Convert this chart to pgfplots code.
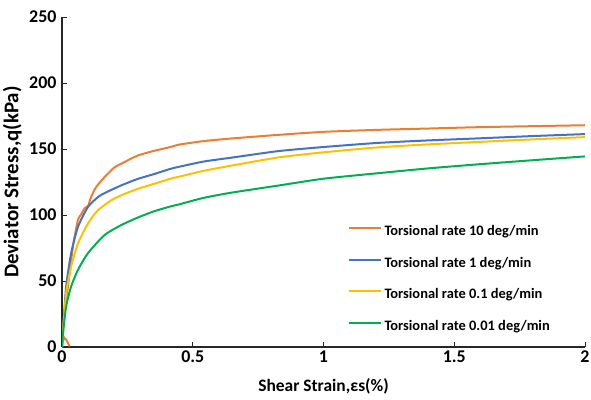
\documentclass[border=0pt]{standalone}
\usepackage{pgfplots}
\pgfplotsset{compat=1.18}
\usepackage{fontspec}
\setmainfont{Carlito}
\definecolor{xlorange}{HTML}{ED7D31}
\definecolor{xlblue}{HTML}{4472C4}
\definecolor{xlyellow}{HTML}{FFC000}
\definecolor{xlgreen}{HTML}{00B050}
\begin{document}
\begin{tikzpicture}
\begin{axis}[
  scale only axis,
  width=523bp, height=330bp,
  xmin=0, xmax=2, ymin=0, ymax=250,
  xtick={0,0.5,1,1.5,2},
  ytick={0,50,100,150,200,250},
  axis lines*=left,
  axis line style={line width=1.2bp, black!85},
  tick align=inside,
  major tick length=5bp,
  tick style={line width=1bp, black!85},
  /pgf/number format/assume math mode=true,
  ticklabel style={font=\bfseries\fontsize{18}{20}\selectfont},
  yticklabel style={xshift=-2bp},
  xlabel={Shear Strain,εs(\%)},
  ylabel={Deviator Stress,q(kPa)},
  xlabel style={font=\bfseries\fontsize{17.5}{20}\selectfont, at={(axis description cs:0.5,-0.118)}, anchor=center},
  ylabel style={font=\bfseries\fontsize{21}{24}\selectfont, at={(axis description cs:-0.095,0.5)}, anchor=center, rotate=0},
  legend cell align=left,
  legend style={at={(axis description cs:0.5456,0.369)}, anchor=north west,
    draw=none, fill=none, inner sep=0pt,
    font=\bfseries\fontsize{14.5}{16}\selectfont,
    nodes={inner sep=0pt, text height=10bp, text depth=3bp},
    row sep=18.6bp,
    /tikz/every odd column/.append style={column sep=3bp}},
  legend image code/.code={\draw[#1] (0bp,4bp) -- (32bp,4bp);},
  every axis plot/.append style={line width=2bp},
]
\addplot[xlorange, forget plot] coordinates {
(0.029,0.5) (0.018,5) (0.009,7) (0.002,4) (0,0)
};
\addplot[xlorange, smooth, tension=0.4] coordinates {
(0,0) (0.004,15) (0.012,30) (0.0228,46)
(0.0418,76) (0.0607,96) (0.075,101) (0.086,105) (0.1,107) (0.105,110)
(0.111,113.5) (0.13,121) (0.162,128.6) (0.2,136) (0.238,140) (0.289,145)
(0.352,148.6) (0.415,151.5) (0.447,153.3) (0.542,156) (0.65,158) (0.827,160.7)
(1.0,163) (1.206,164.5) (1.4,165.5) (1.586,166.5) (1.8,167.3) (2.0,168)
};
\addlegendentry{Torsional rate 10 deg/min}
\addplot[xlblue, smooth, tension=0.4] coordinates {
(0,0) (0.005,15) (0.016,46) (0.035,71) (0.061,91) (0.099,106) (0.137,113.5)
(0.162,116.5) (0.225,122.3) (0.289,127.3) (0.352,131) (0.415,135) (0.447,136.5)
(0.542,140.5) (0.65,143.5) (0.827,148.4) (1.0,151.5) (1.206,154.6) (1.4,156.5)
(1.586,158) (1.8,159.8) (2.0,161.3)
};
\addlegendentry{Torsional rate 1 deg/min}
\addplot[xlyellow, smooth, tension=0.4] coordinates {
(0,0) (0.005,14) (0.016,41) (0.035,61) (0.061,78.4) (0.099,93.5) (0.137,103.5)
(0.187,111) (0.225,114.8) (0.289,119.8) (0.352,123.6) (0.415,127.5) (0.447,129)
(0.542,133.5) (0.65,137.5) (0.827,143.6) (1.0,147.5) (1.206,151.2) (1.4,153.5)
(1.586,155.3) (1.8,157.3) (2.0,159)
};
\addlegendentry{Torsional rate 0.1 deg/min}
\addplot[xlgreen, smooth, tension=0.4] coordinates {
(0,0) (0.004,10.8) (0.016,30.8) (0.035,45.9) (0.061,58.4) (0.099,71) (0.162,84.7)
(0.225,92.2) (0.289,98) (0.352,102.8) (0.415,106.5) (0.447,108) (0.542,113)
(0.65,117) (0.827,122.3) (1.0,127.5) (1.2,131.5) (1.4,135.3) (1.586,138.3)
(1.8,141.5) (2.0,144.4)
};
\addlegendentry{Torsional rate 0.01 deg/min}
\end{axis}
\pgfresetboundingbox
\path[use as bounding box] (-62bp,-53bp) rectangle (529bp,347bp);
\end{tikzpicture}
\end{document}
